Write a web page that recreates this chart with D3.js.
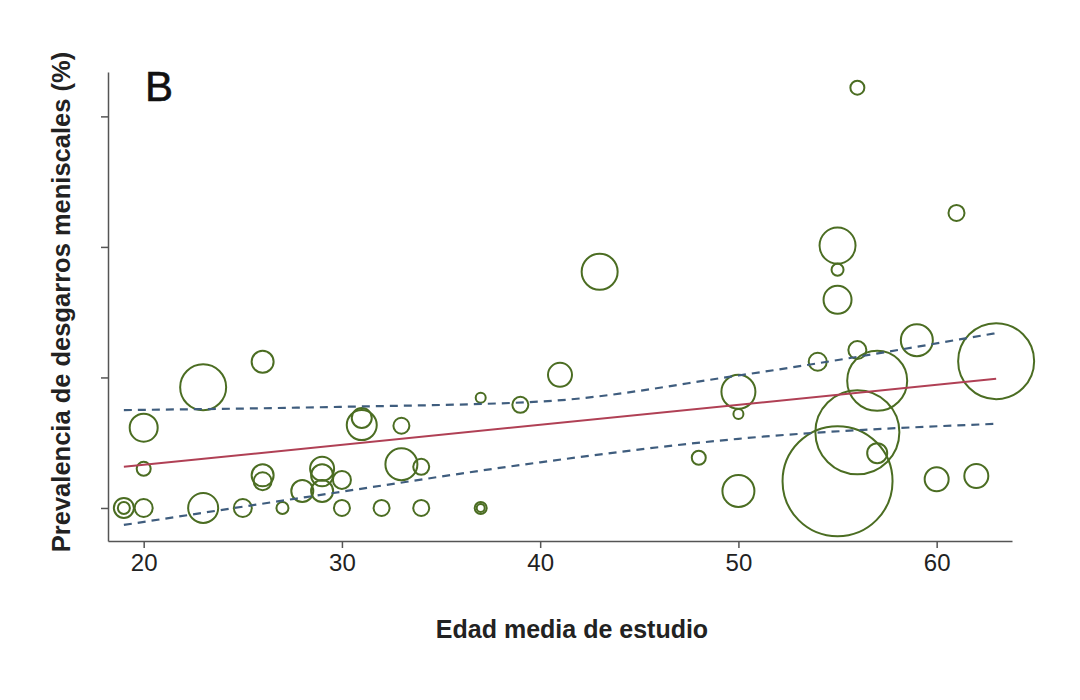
<!DOCTYPE html>
<html lang="es">
<head>
<meta charset="UTF-8">
<title>Prevalencia</title>
<script src="https://d3js.org/d3.v7.min.js"></script>
<style>
  body { margin: 0; background: #fff; }
  text { font-family: "Liberation Sans", Arial, sans-serif; }
</style>
</head>
<body>
<div id="chart"></div>
<script>
// estudios: edad media, prevalencia (%), tamaño (radio relativo)
var edad = [19,19,20,20,20,23,23,25,26,26,26,27,28,29,29,29,30,30,31,31,32,33,33,34,34,37,37,37,39,41,43,48,50,50,50,54,55,55,55,55,56,56,56,57,57,59,60,61,62,63];
var prev = [0,0,12.3,6,0,18.5,0,0,22.4,5,4.1,0,2.6,6,5,2.6,4.3,0,12.7,13.8,0,12.6,6.7,6.3,0,16.9,0,0,15.8,20.4,36.2,7.7,17.8,14.4,2.6,22.4,40.2,36.5,31.9,4.1,64.4,24.2,11.6,19.5,8.4,25.7,4.4,45.2,4.9,22.5];
var tam  = [10,6,14,7,9,23,15,9,11,11,9,6,11,12,11,11,9,8,15,10,8,8,16,8,8,5,6,4,8,12,18,7,17,5,16,9,18,6,14,55,7,9,42,30,10,16,12,8,12,38];

// recta de regresión e intervalos de confianza
var ajusteX = [19, 63];
var ajusteY = [6.3, 19.8];
var ciX = [19, 30, 40, 50, 63];
var ciSup = [15.0, 15.5, 16.3, 20.3, 26.8];
var ciInf = [-2.6, 2.5, 7.0, 10.6, 12.9];

var xTicks = [20, 30, 40, 50, 60];
var yTicks = [0, 20, 40, 60];

var svg = d3.select("#chart").append("svg").attr("width", 1080).attr("height", 700);

var x = d3.scaleLinear().domain([18.2, 63.8]).range([108, 1012]);
var y = d3.scaleLinear().domain([-5.06, 66.8]).range([541, 72]);

// ejes
svg.append("g").attr("transform", "translate(0,541)")
  .call(d3.axisBottom(x).tickValues(xTicks).tickSize(7).tickPadding(6).tickSizeOuter(0))
  .call(g => g.selectAll("text").attr("font-size", 24).attr("fill", "#222"));
svg.append("g").attr("transform", "translate(108,0)")
  .call(d3.axisLeft(y).tickValues(yTicks).tickSize(7).tickFormat("").tickSizeOuter(0));
svg.selectAll(".domain, .tick line").attr("stroke", "#555").attr("stroke-width", 1.5);

// círculos
svg.selectAll("circle.est").data(edad).enter().append("circle")
  .attr("class", "est")
  .attr("cx", (d, i) => x(d))
  .attr("cy", (d, i) => y(prev[i]))
  .attr("r", (d, i) => tam[i])
  .attr("fill", "none").attr("stroke", "#4b6d22").attr("stroke-width", 2);

// regresión
var lin = d3.line().x(d => x(d[0])).y(d => y(d[1]));
svg.append("path").attr("d", lin(ajusteX.map((d, i) => [d, ajusteY[i]])))
  .attr("stroke", "#b04055").attr("stroke-width", 2).attr("fill", "none");
var curva = d3.line().x(d => x(d[0])).y(d => y(d[1])).curve(d3.curveMonotoneX);
[ciSup, ciInf].forEach(function(s) {
  svg.append("path").attr("d", curva(ciX.map((d, i) => [d, s[i]])))
    .attr("stroke", "#3f5d7e").attr("stroke-width", 2.2).attr("stroke-dasharray", "8,6").attr("fill", "none");
});

// textos
svg.append("text").attr("x", 145).attr("y", 101).attr("font-size", 42).attr("fill", "#111").attr("stroke", "#111").attr("stroke-width", 0.6).text("B");
svg.append("text").attr("x", 572).attr("y", 638).attr("text-anchor", "middle")
  .attr("font-size", 25).attr("font-weight", "bold").attr("fill", "#222").text("Edad media de estudio");
svg.append("text").attr("transform", "translate(70,302) rotate(-90)").attr("text-anchor", "middle")
  .attr("font-size", 25.5).attr("font-weight", "bold").attr("fill", "#222").text("Prevalencia de desgarros meniscales (%)");
</script>
</body>
</html>
